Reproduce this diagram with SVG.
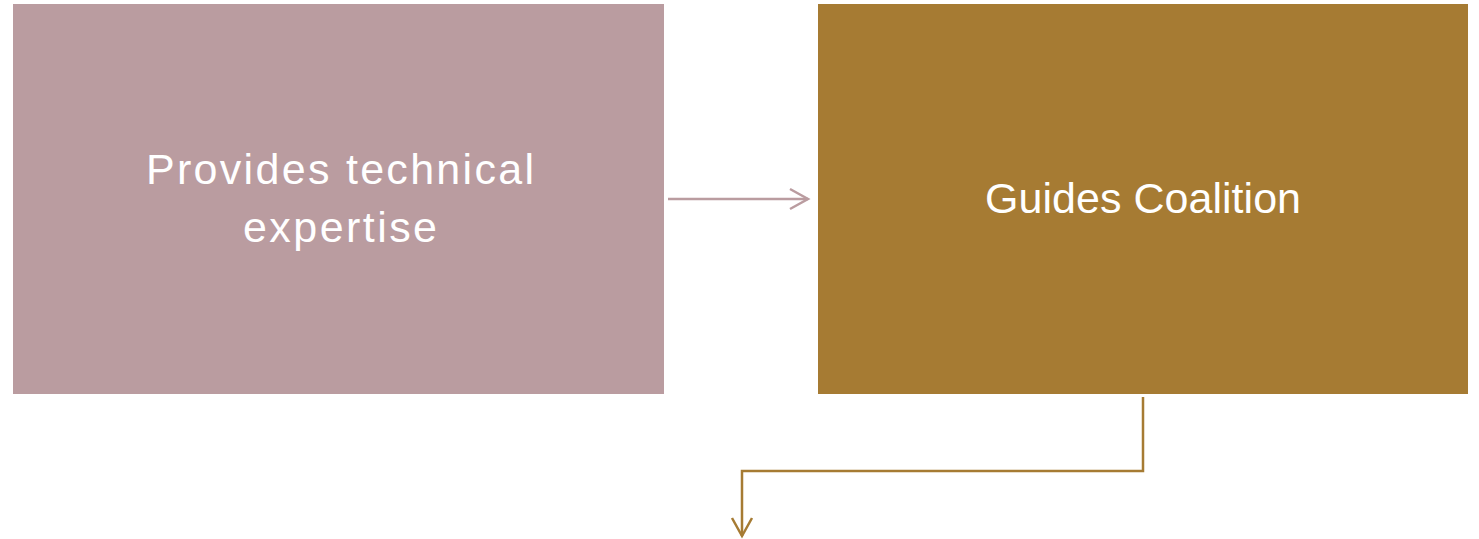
<svg xmlns="http://www.w3.org/2000/svg" width="1479" height="539" viewBox="0 0 1479 539">
<defs>
<style>
.lbl{font-family:"Liberation Sans",Arial,sans-serif;font-size:43px;fill:#ffffff;text-anchor:middle}
</style>
<marker id="ah1" markerWidth="24" markerHeight="24" refX="20" refY="12" orient="auto" markerUnits="userSpaceOnUse">
<path d="M2,2 L20,12 L2,22" fill="none" stroke="#BA9CA0" stroke-width="2.5"/>
</marker>
<marker id="ah2" markerWidth="24" markerHeight="24" refX="20" refY="12" orient="auto" markerUnits="userSpaceOnUse">
<path d="M2,2 L20,12 L2,22" fill="none" stroke="#A67B33" stroke-width="2.5"/>
</marker>
</defs>
<rect width="1479" height="539" fill="#ffffff"/>
<g id="node-expertise">
<rect x="13" y="4" width="651" height="390" fill="#BA9CA0"/>
<text class="lbl" x="340" y="184" textLength="388" lengthAdjust="spacing">Provides technical</text>
<text class="lbl" x="340" y="242" textLength="194" lengthAdjust="spacing">expertise</text>
</g>
<g id="node-coalition">
<rect x="818" y="4" width="650" height="390" fill="#A67B33"/>
<text class="lbl" x="1143" y="213" textLength="316" lengthAdjust="spacing">Guides Coalition</text>
</g>
<g id="connectors">
<line x1="668" y1="199" x2="808" y2="199" stroke="#BA9CA0" stroke-width="2.5" marker-end="url(#ah1)"/>
<polyline points="1143,397 1143,471 742,471 742,536" fill="none" stroke="#A67B33" stroke-width="2.5" marker-end="url(#ah2)"/>
</g>
</svg>
